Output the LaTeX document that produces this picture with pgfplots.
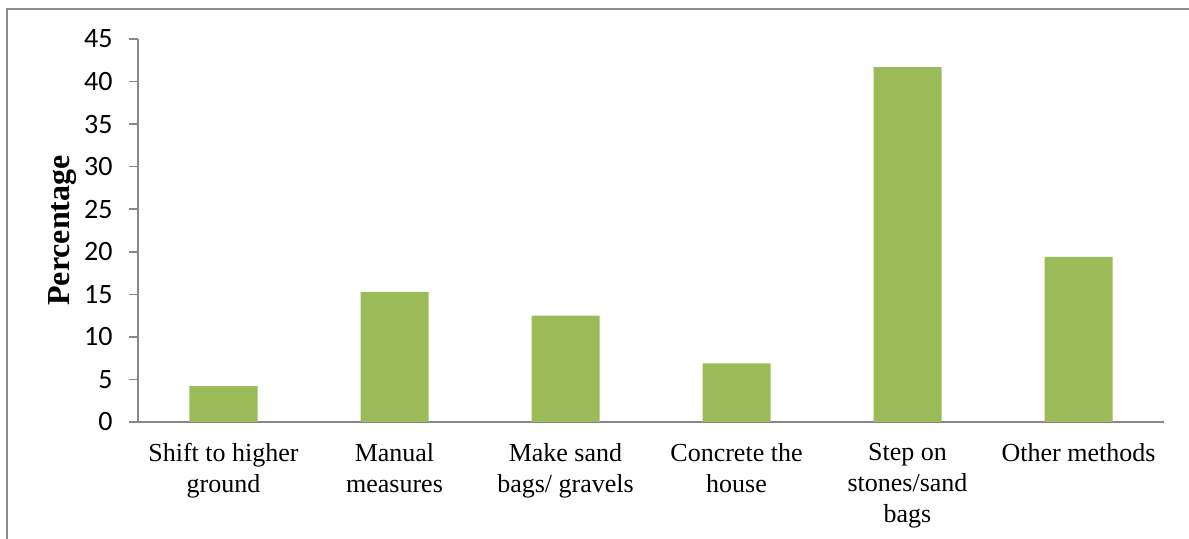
\documentclass[border=0pt]{standalone}
\usepackage{pgfplots}
\pgfplotsset{compat=1.18}
\usepackage{fontspec}
\setmainfont{Liberation Serif}
\newfontfamily\calibri{Carlito}
\definecolor{bargreen}{HTML}{9BBB59}
\definecolor{axisgray}{HTML}{888888}
\definecolor{framegray}{HTML}{8C8C8C}
\begin{document}
\begin{tikzpicture}
\path[use as bounding box] (-69pt,-58.5pt) rectangle (525.5pt,211pt);
\begin{axis}[
  at={(0,0)}, anchor=south west,
  scale only axis,
  width=513pt, height=191.5pt,
  xmin=-0.5, xmax=5.5,
  ymin=0, ymax=45,
  ytick={0,5,...,45},
  xtick={0,1,2,3,4,5},
  xticklabels={{Shift to higher\\ground},{Manual\\measures},{Make sand\\bags/ gravels},{Concrete the\\house},{Step on\\stones/sand\\bags},{Other methods}},
  xticklabel style={font=\fontsize{13}{15.5}\selectfont, align=center, inner sep=0pt, anchor=north, yshift=-6pt},
  yticklabel style={font=\calibri\fontsize{14}{16}\selectfont, inner sep=0pt, anchor=east, xshift=-8pt},
  /pgf/number format/assume math mode=true,
  axis x line=bottom, axis y line=left,
  axis line style={-, draw=axisgray, line width=0.8pt},
  tick style={draw=axisgray, line width=0.8pt},
  tick align=outside,
  major tick length=4.5pt,
  x tick style={draw=none},
  extra x ticks={-0.5,0.5,1.5,2.5,3.5,4.5,5.5},
  extra x tick labels={},
  extra x tick style={tick style={draw=axisgray, line width=0.8pt}, major tick length=4.5pt},
  ylabel={\fontsize{16}{18}\selectfont\bfseries Percentage},
  ylabel style={at={(axis description cs:-0.074,0.5)}, anchor=center, rotate=0},
  ybar, bar width=34pt,
  clip=false,
]
\addplot[fill=bargreen, draw=none] coordinates {(0,4.2) (1,15.3) (2,12.5) (3,6.9) (4,41.7) (5,19.4)};
\end{axis}
\draw[framegray, line width=1pt] (-65.5pt,-58.5pt) -- (-65.5pt,206.5pt) -- (525.5pt,206.5pt);
\end{tikzpicture}
\end{document}
